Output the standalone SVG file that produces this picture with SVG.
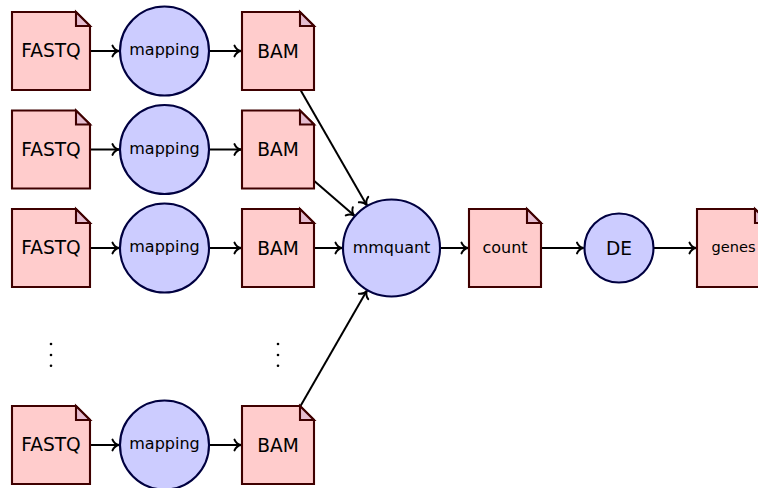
<svg xmlns="http://www.w3.org/2000/svg" width="758" height="488" viewBox="0 0 758 488">
<defs>
<marker id="arr" viewBox="-9 -8 11 16" markerWidth="11" markerHeight="16" refX="0" refY="0" orient="auto" markerUnits="userSpaceOnUse" overflow="visible">
<path d="M-6.5,-5.4 C-5.2,-2.3 -2.4,-0.5 0,0 C-2.4,0.5 -5.2,2.3 -6.5,5.4" fill="none" stroke="#000" stroke-width="2" stroke-linecap="round"/>
</marker>
</defs>
<style>
.doc{fill:#ffcccc;stroke:#3f0000;stroke-width:2.1;stroke-linejoin:miter}
.fold{fill:#e6bdd0;stroke:#3f0000;stroke-width:2.1}
.proc{fill:#ccccff;stroke:#000040;stroke-width:2.1}
.t{font-family:"DejaVu Sans",sans-serif;text-anchor:middle;fill:#000}
.big{font-size:18.6px}
.mid{font-size:16px}
.sm{font-size:14.6px}
.c{fill:none;stroke:#000;stroke-width:2;marker-end:url(#arr)}
.dot{fill:#000}
</style>

<g id="connectors">
<line class="c" x1="90" y1="51" x2="119" y2="51"/>
<line class="c" x1="209" y1="51" x2="241" y2="51"/>
<line class="c" x1="90" y1="149.5" x2="119" y2="149.5"/>
<line class="c" x1="209" y1="149.5" x2="241" y2="149.5"/>
<line class="c" x1="90" y1="248" x2="119" y2="248"/>
<line class="c" x1="209" y1="248" x2="241" y2="248"/>
<line class="c" x1="90" y1="445" x2="119" y2="445"/>
<line class="c" x1="209" y1="445" x2="241" y2="445"/>
<line class="c" x1="300.5" y1="90" x2="366.8" y2="205.2"/>
<line class="c" x1="314" y1="180.7" x2="354.2" y2="215.6"/>
<line class="c" x1="314" y1="248" x2="342" y2="248"/>
<line class="c" x1="300.5" y1="406" x2="366.8" y2="290.8"/>
<line class="c" x1="440" y1="248" x2="468" y2="248"/>
<line class="c" x1="541" y1="248" x2="583.5" y2="248"/>
<line class="c" x1="653.5" y1="248" x2="696" y2="248"/>
</g>

<g id="fastq1"><path class="doc" d="M12,12 H76 L90,26 V90 H12 Z"/><path class="fold" d="M76,12 V26 H90 Z"/><text class="t big" x="51" y="57">FASTQ</text></g>
<g id="mapping1"><circle class="proc" cx="164.5" cy="51" r="44.5"/><text class="t mid" x="164.5" y="55">mapping</text></g>
<g id="bam1"><path class="doc" d="M242,12 H300 L314,26 V90 H242 Z"/><path class="fold" d="M300,12 V26 H314 Z"/><text class="t big" x="278" y="57.5">BAM</text></g>

<g id="fastq2"><path class="doc" d="M12,110.5 H76 L90,124.5 V188.5 H12 Z"/><path class="fold" d="M76,110.5 V124.5 H90 Z"/><text class="t big" x="51" y="155.5">FASTQ</text></g>
<g id="mapping2"><circle class="proc" cx="164.5" cy="149.5" r="44.5"/><text class="t mid" x="164.5" y="153.5">mapping</text></g>
<g id="bam2"><path class="doc" d="M242,110.5 H300 L314,124.5 V188.5 H242 Z"/><path class="fold" d="M300,110.5 V124.5 H314 Z"/><text class="t big" x="278" y="156">BAM</text></g>

<g id="fastq3"><path class="doc" d="M12,209 H76 L90,223 V287 H12 Z"/><path class="fold" d="M76,209 V223 H90 Z"/><text class="t big" x="51" y="254">FASTQ</text></g>
<g id="mapping3"><circle class="proc" cx="164.5" cy="248" r="44.5"/><text class="t mid" x="164.5" y="252">mapping</text></g>
<g id="bam3"><path class="doc" d="M242,209 H300 L314,223 V287 H242 Z"/><path class="fold" d="M300,209 V223 H314 Z"/><text class="t big" x="278" y="254.5">BAM</text></g>

<g id="dots1"><circle class="dot" cx="51" cy="344" r="1.3"/><circle class="dot" cx="51" cy="355" r="1.3"/><circle class="dot" cx="51" cy="365.7" r="1.3"/></g>
<g id="dots2"><circle class="dot" cx="278" cy="344" r="1.3"/><circle class="dot" cx="278" cy="355" r="1.3"/><circle class="dot" cx="278" cy="365.7" r="1.3"/></g>

<g id="fastq5"><path class="doc" d="M12,406 H76 L90,420 V484 H12 Z"/><path class="fold" d="M76,406 V420 H90 Z"/><text class="t big" x="51" y="451">FASTQ</text></g>
<g id="mapping5"><circle class="proc" cx="164.5" cy="445" r="44.5"/><text class="t mid" x="164.5" y="449">mapping</text></g>
<g id="bam5"><path class="doc" d="M242,406 H300 L314,420 V484 H242 Z"/><path class="fold" d="M300,406 V420 H314 Z"/><text class="t big" x="278" y="451.5">BAM</text></g>

<g id="mmquant"><circle class="proc" cx="391.5" cy="248" r="48.5"/><text class="t mid" x="391.5" y="252.5">mmquant</text></g>
<g id="count"><path class="doc" d="M469,209 H527 L541,223 V287 H469 Z"/><path class="fold" d="M527,209 V223 H541 Z"/><text class="t mid" x="505" y="253">count</text></g>
<g id="de"><circle class="proc" cx="619" cy="248" r="34.5"/><text class="t big" x="619" y="254.5">DE</text></g>
<g id="genes"><path class="doc" d="M697,209 H755 L769,223 V287 H697 Z"/><path class="fold" d="M755,209 V223 H769 Z"/><text class="t sm" x="733.5" y="252">genes</text></g>
</svg>
